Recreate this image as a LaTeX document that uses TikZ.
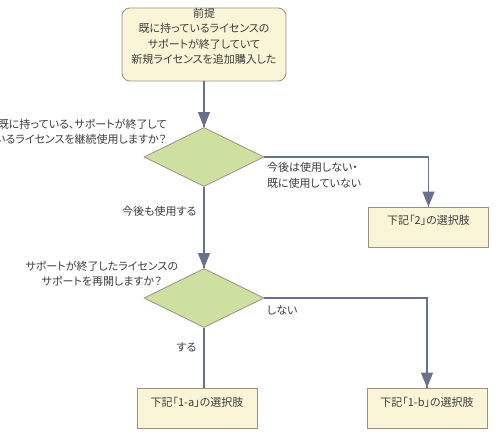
\documentclass[tikz,border=0pt]{standalone}
\usepackage{fontspec}
\setmainfont{Noto Sans CJK JP}[RawFeature=+palt]
\usepackage{tikz}
\usetikzlibrary{shapes.geometric}
\usetikzlibrary{arrows.meta}
\usetikzlibrary{decorations.markings}
\usetikzlibrary{positioning}
\definecolor{linea}{HTML}{68708A}
\definecolor{rombo}{HTML}{CDE0A0}
\definecolor{caja}{HTML}{FBF5D8}
\definecolor{borde}{HTML}{A08E84}
\definecolor{texto}{HTML}{3C3C3C}
\tikzset{
  flecha/.style={
    line width=1.2pt, color=linea,
    postaction={decorate, decoration={
      markings,
      mark=at position 1 with {\arrow{Triangle[length=15pt,width=12pt]}}
    }}
  }
}

\begin{document}
\begin{tikzpicture}[node distance=112.5pt, font=\fontsize{11pt}{15.5pt}\selectfont, text=texto] % Estilos de nodos
\tikzstyle{premise} = [rectangle, draw=borde, fill=caja, rounded corners=8pt, line width=0.8pt, inner sep=0pt] \tikzstyle{question} = [diamond, draw=borde, fill=rombo, line width=0.8pt, minimum width=120pt, minimum height=59pt, inner sep=0pt] \tikzstyle{choice} = [rectangle, draw=borde, fill=caja, line width=0.8pt, minimum width=120pt, text height=18pt, text depth=22pt, inner sep=0pt] \tikzstyle{rotulo} = [inner sep=0pt, text=texto]
\useasboundingbox (0,0) rectangle (498pt,-438pt);
% Nodos
\node (pre) [premise] at (204pt,-44.5pt) {\parbox[c][73pt][t]{164pt}{\centering 前提\\既に持っているライセンスの\\サポートが終了していて\\新規ライセンスを追加購入した}}; \node (q1) [question, below of=pre] {}; \node (q2) [question, below of=q1, node distance=141pt] {}; \node (opt1a) [choice, below of=q2, node distance=110pt, xshift=-7pt] {下記「1-a」の選択肢}; \node (opt1b) [choice, right of=opt1a, node distance=230pt] {下記「1-b」の選択肢}; \node (opt2) [choice, right of=q1, node distance=224.5pt, yshift=-70pt] {下記「2」の選択肢};
% Preguntas
\node (q1txt) [rotulo, align=right, anchor=south east] at ([xshift=-7pt,yshift=-3pt]q1.north west) {既に持っている、サポートが終了して\\いるライセンスを継続使用しますか？}; \node (q2txt) [rotulo, align=center, anchor=south] at ([xshift=-72pt,yshift=-4pt]q2.north west) {サポートが終了したライセンスの\\サポートを再開しますか？};
% Flechas
\draw[flecha] (pre) -- (q1); \draw[flecha] (q1.east) -| node[rotulo, at start, anchor=north west, align=left, xshift=2pt, yshift=-5pt] (no1) {今後は使用しない・\\既に使用していない} (opt2.north); \draw[flecha] (q1) -- node[rotulo, pos=0.3, anchor=east, xshift=-7pt] (yes1) {今後も使用する} (q2); \draw[flecha] (q2.east) -| node[rotulo, at start, anchor=north west, xshift=2pt, yshift=-7pt] (no2) {しない} (opt1b.north); \draw[line width=1.2pt, linea] (q2) -- node[rotulo, pos=0.32, anchor=east, xshift=-7pt] (yes2) {する} (q2.south |- opt1a.north);
\end{tikzpicture}
\end{document}
